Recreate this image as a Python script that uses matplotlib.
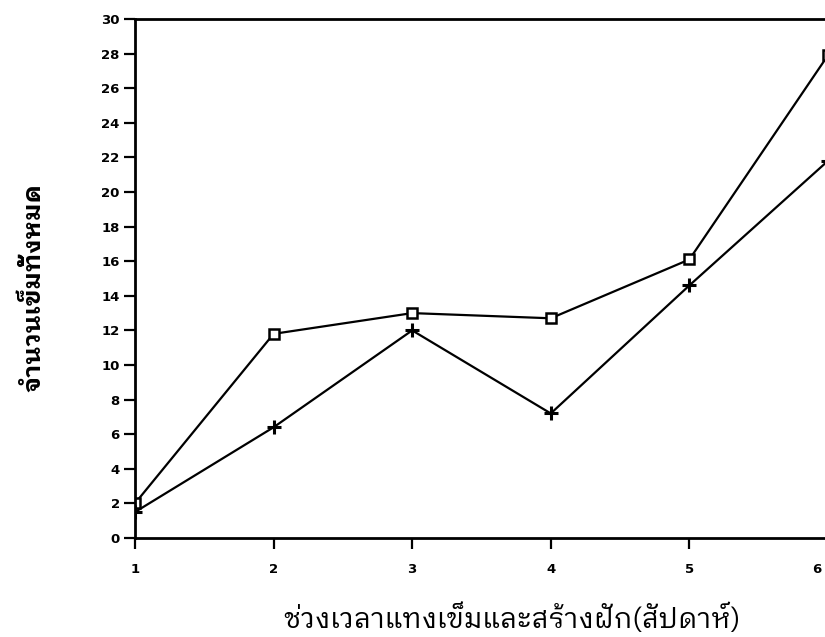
import matplotlib
matplotlib.use("Agg")
import matplotlib.pyplot as plt
from matplotlib.transforms import offset_copy

# weeks of needle insertion / pod setting
weeks = [1, 2, 3, 4, 5, 6]
series_square = [2.0, 11.8, 13.0, 12.7, 16.1, 27.9]
series_plus = [1.5, 6.4, 12.0, 7.2, 14.6, 21.8]
y_ticks = list(range(0, 31, 2))

x_label = "ช่วงเวลาแทงเข็มและสร้างฝัก(สัปดาห์)"
y_label = "จำนวนเข็มทั้งหมด"
thai_font = ["IBM Plex Sans Thai Looped", "Noto Sans Thai Looped", "DejaVu Sans"]

fig = plt.figure(figsize=(8.25, 6.37), dpi=100)
ax = fig.add_axes([0.1636, 0.1554, 0.84, 0.8148])

ax.plot(weeks, series_square, color="black", linewidth=1.6,
        marker="s", markersize=7, markerfacecolor="white",
        markeredgecolor="black", markeredgewidth=1.8)
ax.plot(weeks, series_plus, color="black", linewidth=1.6,
        marker="+", markersize=10, markeredgewidth=2.2)

ax.set_xlim(1, 6)
ax.set_ylim(0, 30)
ax.set_xticks(weeks)
ax.set_yticks(y_ticks)
ax.tick_params(axis="both", direction="out", width=1.6, length=8,
               labelsize=9.5)
ax.tick_params(axis="x", pad=10)
ax.tick_params(axis="y", pad=3)
for lab in ax.get_xticklabels() + ax.get_yticklabels():
    lab.set_fontweight("bold")
for side in ax.spines.values():
    side.set_linewidth(2)

# the last week sits at the cropped right edge: draw its label just inside
ax.set_xticklabels([str(w) for w in weeks[:-1]] + [""], fontweight="bold")
ax.text(weeks[-1], 0, str(weeks[-1]), ha="right", va="top",
        fontsize=9.5, fontweight="bold", clip_on=False,
        transform=offset_copy(ax.transData, fig=fig, x=-5, y=-18, units="points"))

fig.text(0.62, 0.029, x_label, ha="center", va="center",
         fontsize=20, family=thai_font)
fig.text(0.04, 0.548, y_label, ha="center", va="center", rotation=90,
         fontsize=18, fontweight="bold", family=thai_font)

fig.savefig("out.png")
